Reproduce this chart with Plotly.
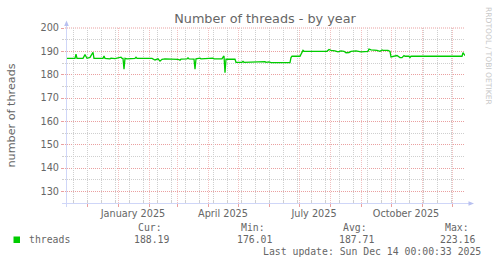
import plotly.graph_objects as go

# ---- data ----
dates = [
    "2024-11-11", "2024-11-19", "2024-11-20", "2024-11-21", "2024-11-27", "2024-11-28",
    "2024-11-29", "2024-11-30", "2024-12-01", "2024-12-04", "2024-12-06", "2024-12-07",
    "2024-12-08", "2024-12-16", "2024-12-17", "2024-12-18", "2024-12-19", "2024-12-24",
    "2024-12-25", "2024-12-29", "2025-01-02", "2025-01-04", "2025-01-05", "2025-01-06",
    "2025-01-07", "2025-01-08", "2025-01-10", "2025-01-16", "2025-01-18", "2025-01-19",
    "2025-01-20", "2025-02-04", "2025-02-07", "2025-02-10", "2025-02-12", "2025-02-14",
    "2025-02-17", "2025-03-02", "2025-03-04", "2025-03-05", "2025-03-11", "2025-03-12",
    "2025-03-13", "2025-03-18", "2025-03-19", "2025-03-20", "2025-03-24", "2025-03-25",
    "2025-04-06", "2025-04-07", "2025-04-15", "2025-04-16", "2025-04-17", "2025-04-18",
    "2025-04-19", "2025-04-28", "2025-04-29", "2025-05-05", "2025-05-06", "2025-05-07",
    "2025-05-23", "2025-05-24", "2025-05-28", "2025-05-29", "2025-06-01", "2025-06-03",
    "2025-06-22", "2025-06-23", "2025-06-24", "2025-07-02", "2025-07-04", "2025-07-05",
    "2025-07-06", "2025-07-29", "2025-07-31", "2025-08-02", "2025-08-06", "2025-08-09",
    "2025-08-12", "2025-08-15", "2025-08-17", "2025-08-20", "2025-08-22", "2025-08-27",
    "2025-09-01", "2025-09-05", "2025-09-08", "2025-09-09", "2025-09-11", "2025-09-17",
    "2025-09-20", "2025-09-22", "2025-09-23", "2025-09-28", "2025-09-30", "2025-10-01",
    "2025-10-06", "2025-10-07", "2025-10-10", "2025-10-12", "2025-10-14", "2025-10-15",
    "2025-10-19", "2025-10-20", "2025-10-21", "2025-12-11", "2025-12-12", "2025-12-13",
    "2025-12-14",
]
threads = [
    187.0, 187.0, 188.8, 187.0, 187.0, 188.3,
    188.6, 187.8, 187.0, 187.4, 189.1, 189.6,
    187.0, 186.8, 187.0, 188.0, 187.0, 186.8,
    187.1, 186.9, 187.1, 187.5, 187.0, 187.0,
    182.3, 187.0, 186.8, 186.8, 187.0, 187.5,
    187.0, 187.0, 186.3, 186.8, 185.8, 186.6,
    186.8, 186.6, 186.2, 186.7, 186.8, 187.2,
    186.8, 186.7, 182.3, 186.8, 187.1, 186.8,
    187.1, 186.8, 186.8, 187.5, 188.0, 180.8,
    186.6, 186.6, 185.3, 185.3, 185.7, 185.3,
    185.6, 185.3, 185.6, 185.3, 185.5, 185.2,
    185.2, 187.3, 187.9, 187.9, 189.8, 190.4,
    190.0, 190.0, 190.8, 190.4, 190.2, 189.8,
    190.2, 190.0, 189.4, 189.5, 190.0, 190.2,
    189.8, 190.1, 190.0, 191.0, 190.6, 190.4,
    190.0, 190.6, 190.4, 190.4, 190.0, 187.6,
    187.9, 188.2, 187.3, 187.3, 188.2, 187.9,
    187.9, 187.4, 187.9, 187.9, 189.4, 189.0,
    188.19,
]
tick_dates = ["2025-01-16", "2025-04-16", "2025-07-16", "2025-10-16"]
tick_labels = ["January 2025", "April 2025", "July 2025", "October 2025"]
stat_labels = ["Cur:", "Min:", "Avg:", "Max:"]
stat_values = [188.19, 176.01, 187.71, 223.16]
series_name = "threads"
title_text = "Number of threads - by year"
y_title = "number of threads"
last_update = "Last update: Sun Dec 14 00:00:33 2025"
x_start = "2024-11-09 00:00:33"
x_end = "2025-12-14 00:00:33"
y_range = [125, 200]

# ---- layout geometry (pixels) ----
W, H = 497, 264
L, R, T, B = 65, 32, 28, 61
PW, PH = W - L - R, H - T - B

def px(x):
    return (x - L) / PW

def py(y):
    return (H - B - y) / PH

FONT = "DejaVu Sans"
MONO = "DejaVu Sans Mono"
TXT = "#666666"
GREEN = "#00cc00"
MGRID = "#eaa0a0"
VGRID = "#f2c0c0"
GRID = "#cfcfcf"
AXIS = "#cfd6f8"
ARROW = "#b8c0f0"
DOT = "1px,1px"

fig = go.Figure()
fig.add_trace(go.Scatter(
    x=dates, y=threads, mode="lines", name=series_name,
    line=dict(color=GREEN, width=1.3), showlegend=False, hoverinfo="skip",
))
# empty traces so the overlay axes (grid only) exist
fig.add_trace(go.Scatter(x=[], y=[], xaxis="x2", showlegend=False))
fig.add_trace(go.Scatter(x=[], y=[], xaxis="x3", showlegend=False))

fig.update_layout(
    width=W, height=H,
    margin=dict(l=L, r=R, t=T, b=B, pad=0),
    paper_bgcolor="white", plot_bgcolor="white",
    font=dict(family=FONT, color=TXT, size=10),
    xaxis=dict(
        type="date", range=[x_start, x_end],
        tickmode="array", tickvals=tick_dates, ticktext=tick_labels,
        ticks="", showgrid=False, zeroline=False, showline=False,
        ticklabelstandoff=3,
        tickfont=dict(family=FONT, size=9.7, color=TXT),
    ),
    # two-week minor grid
    xaxis3=dict(
        type="date", range=[x_start, x_end], overlaying="x", side="bottom",
        tickmode="linear", tick0="2024-11-17", dtick=14 * 86400000,
        showticklabels=False, showgrid=True, gridcolor=GRID, griddash=DOT,
        ticks="inside", ticklen=2, tickcolor=GRID, zeroline=False, showline=False,
    ),
    # monthly major grid
    xaxis2=dict(
        type="date", range=[x_start, x_end], overlaying="x", side="bottom",
        tickmode="linear", tick0="2024-12-01", dtick="M1",
        showticklabels=False, showgrid=True, gridcolor=VGRID, griddash=DOT,
        ticks="outside", ticklen=3, tickcolor=MGRID, zeroline=False, showline=False,
    ),
    yaxis=dict(
        range=y_range, tickmode="linear", tick0=0, dtick=10,
        showgrid=True, gridcolor=MGRID, griddash=DOT, gridwidth=1,
        ticks="outside", ticklen=3, tickcolor=MGRID, zeroline=False, showline=False,
        tickfont=dict(family=FONT, size=9.7, color=TXT),
        minor=dict(tickmode="linear", tick0=0, dtick=5, showgrid=True,
                   gridcolor=GRID, griddash=DOT, ticks="outside", ticklen=2,
                   tickcolor=GRID),
    ),
    title=dict(text=title_text, x=0.5, xref="paper", xanchor="center",
               y=1 - 19 / H, yref="container", yanchor="middle",
               font=dict(family=FONT, size=12.8, color=TXT)),
)

shapes = []
# top grid line at the upper limit (plotly omits grid at the range edge)
shapes.append(dict(type="line", xref="paper", yref="paper",
                   x0=0, x1=1, y0=1, y1=1,
                   line=dict(color=MGRID, width=1, dash=DOT), layer="below"))
# axis lines + arrows
shapes.append(dict(type="line", xref="paper", yref="paper",
                   x0=px(62), x1=px(469), y0=py(203.5), y1=py(203.5),
                   line=dict(color=AXIS, width=1), layer="above"))
shapes.append(dict(type="line", xref="paper", yref="paper",
                   x0=px(66.5), x1=px(66.5), y0=py(207), y1=py(24),
                   line=dict(color=AXIS, width=1), layer="above"))
shapes.append(dict(type="path", xref="paper", yref="paper",
                   path=f"M {px(64.2)},{py(26)} L {px(68.8)},{py(26)} L {px(66.5)},{py(20.5)} Z",
                   fillcolor=ARROW, line=dict(width=0), layer="above"))
shapes.append(dict(type="path", xref="paper", yref="paper",
                   path=f"M {px(468.5)},{py(201.2)} L {px(468.5)},{py(205.8)} L {px(474)},{py(203.5)} Z",
                   fillcolor=ARROW, line=dict(width=0), layer="above"))
# legend swatch
shapes.append(dict(type="rect", xref="paper", yref="paper",
                   x0=px(13.5), x1=px(20), y0=py(243), y1=py(236.5),
                   fillcolor=GREEN, line=dict(width=0)))
fig.update_layout(shapes=shapes)

ann = []
def text(t, x, y, anchor="left", font=MONO, size=9.8, color=TXT, angle=0):
    ann.append(dict(text=t, x=px(x), y=py(y), xref="paper", yref="paper",
                    xanchor=anchor, yanchor="middle", showarrow=False,
                    textangle=angle, font=dict(family=font, size=size, color=color)))

text(y_title, 11, 115.5, anchor="center", font=FONT, size=11.2, angle=-90)
text("RRDTOOL / TOBI OETIKER", 489, 56, anchor="center", font=FONT, size=7.6,
     color="#c8c8c8", angle=90)
text(series_name, 26.5, 239.5)
label_right = [163.5, 266.5, 368.5, 470.5]
value_right = [170.5, 273.5, 375.5, 477]
for lab, val, xr1, xr2 in zip(stat_labels, stat_values, label_right, value_right):
    text(lab, xr1, 227.5, anchor="right")
    text(f"{val:.2f}", xr2, 239.5, anchor="right")
text(last_update, 482.5, 251.5, anchor="right")
fig.update_layout(annotations=ann)

fig.write_html("out.html")
